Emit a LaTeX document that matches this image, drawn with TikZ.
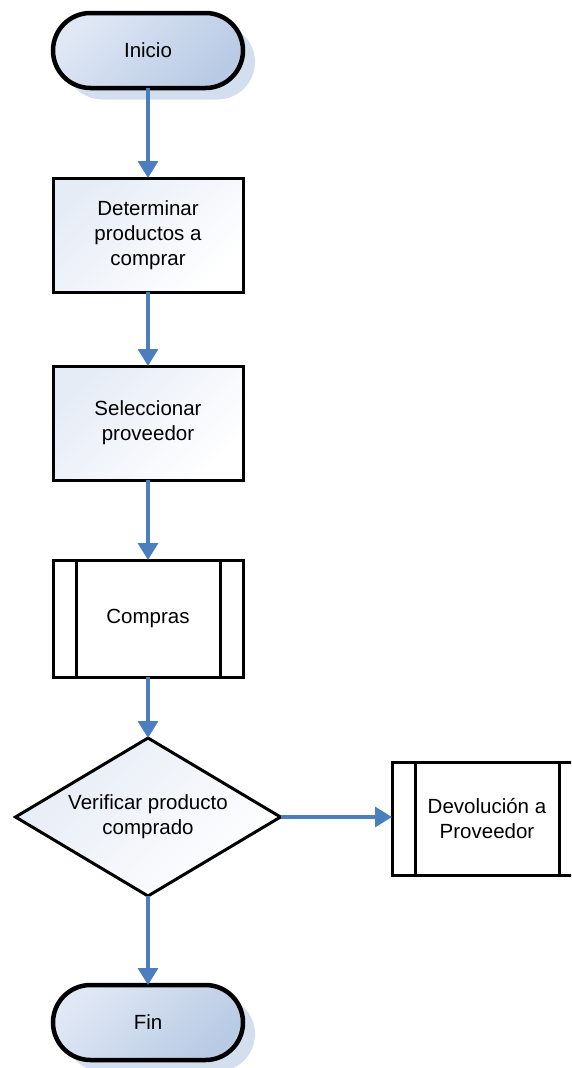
\documentclass[tikz,border=0pt]{standalone}
\usepackage{fontspec}
\setmainfont{Liberation Sans}
\usetikzlibrary{arrows.meta,shapes.geometric}
\definecolor{flowblue}{HTML}{4A7EBF}
\definecolor{termA}{HTML}{E0E8F5}
\definecolor{termB}{HTML}{B8CAE4}
\definecolor{termShadow}{HTML}{D3DEEE}
\definecolor{boxA}{HTML}{E6ECF6}
\tikzset{
  base/.style={inner sep=0pt, outer sep=0pt, align=center,
    font=\fontsize{20.5}{25}\selectfont},
  terminal/.style={base, draw=black, line width=4.5pt, minimum width=190pt,
    minimum height=75pt, rounded corners=37.5pt,
    top color=termA, bottom color=termB, shading angle=45},
  termshadow/.style={inner sep=0pt, fill=termShadow, minimum width=190pt,
    minimum height=75pt, rounded corners=37.5pt},
  procbox/.style={base, draw=black, line width=3pt, minimum width=190pt,
    minimum height=114pt, top color=boxA, bottom color=white, shading angle=45},
  subproc/.style={base, draw=black, line width=3pt, fill=white,
    minimum width=190pt, minimum height=115pt},
  decision/.style={base, diamond, draw=black, line width=3pt,
    minimum width=265pt, minimum height=158pt, aspect=1.677,
    top color=boxA, bottom color=white, shading angle=45},
  flow/.style={draw=flowblue, line width=3.2pt,
    -{Triangle[width=20pt,length=17pt]}},
  sideline/.style={draw=black, line width=3pt}
}
\begin{document}
\begin{tikzpicture}[x=1pt,y=-1pt]
\useasboundingbox (0,0) rectangle (571,1068);
\clip (0,0) rectangle (571,1068);
% shadows of the start and end terminals
\node[termshadow] (inicioShadow) at (160,62) {};
\node[termshadow] (finShadow) at (160,1034) {};
% shapes
\node[terminal] (inicio) at (148,50.5) {Inicio};
\node[procbox] (determinar) at (148,235) {Determinar\\productos a\\comprar};
\node[procbox] (seleccionar) at (148,423) {Seleccionar\\proveedor};
\node[subproc, minimum height=117pt] (compras) at (148,618.5) {Compras};
\draw[sideline] ([xshift=23pt]compras.north west) -- ([xshift=23pt]compras.south west);
\draw[sideline] ([xshift=-23pt]compras.north east) -- ([xshift=-23pt]compras.south east);
\node[decision] (verificar) at (148,817) {Verificar producto\\comprado};
\node[subproc, minimum height=113pt] (devolucion) at (487,818.5) {Devolución a\\Proveedor};
\draw[sideline] ([xshift=23pt]devolucion.north west) -- ([xshift=23pt]devolucion.south west);
\draw[sideline] ([xshift=-23pt]devolucion.north east) -- ([xshift=-23pt]devolucion.south east);
\node[terminal] (fin) at (148,1022.5) {Fin};
% connectors
\draw[flow] (inicio.south) -- (determinar.north);
\draw[flow] (determinar.south) -- (seleccionar.north);
\draw[flow] (seleccionar.south) -- (compras.north);
\draw[flow] (compras.south) -- (verificar.north);
\draw[flow] (verificar.east) -- (verificar.east -| devolucion.west);
\draw[flow] (verificar.south) -- (fin.north);
\end{tikzpicture}
\end{document}
